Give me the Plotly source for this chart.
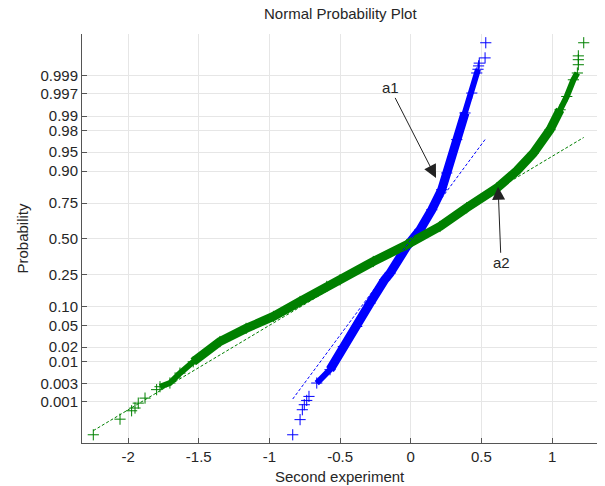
from statistics import NormalDist
import plotly.graph_objects as go

# ---------------- data ----------------
# a1 (blue): sorted sample value vs. cumulative probability
a1_value = [-0.835, -0.783, -0.767, -0.753, -0.736, -0.720, -0.665, -0.571,
            -0.477, -0.382, -0.288, -0.185, -0.146, -0.028, 0.066, 0.149,
            0.219, 0.255, 0.326, 0.384, 0.432, 0.467, 0.476, 0.480, 0.485,
            0.526, 0.531]
a1_prob = [0.0001, 0.0003, 0.00059, 0.00082, 0.00108, 0.00139, 0.0031, 0.0065,
           0.0205, 0.048, 0.111, 0.218, 0.257, 0.442, 0.568, 0.709,
           0.824, 0.894, 0.970, 0.9915, 0.99715, 0.99917, 0.99935, 0.99948, 0.99957,
           0.9997, 0.9999]

# a2 (green)
a2_value = [-2.246, -2.057, -1.975, -1.951, -1.928, -1.880, -1.798, -1.774,
            -1.704, -1.633, -1.539, -1.350, -1.165, -0.972, -0.783, -0.594,
            -0.500, -0.265, -0.028, 0.207, 0.396, 0.609, 0.750, 0.868,
            0.986, 1.057, 1.104, 1.151, 1.179, 1.186, 1.186, 1.186, 1.224]
a2_prob = [0.0001, 0.00031, 0.00055, 0.00066, 0.00091, 0.00125, 0.0021, 0.0025,
           0.0031, 0.0054, 0.0098, 0.0256, 0.0445, 0.0703, 0.117, 0.183,
           0.218, 0.333, 0.455, 0.592, 0.722, 0.832, 0.901, 0.948,
           0.9807, 0.9928, 0.99653, 0.99872, 0.99917, 0.99952, 0.99966, 0.99974, 0.9999]

# reference (fit) lines: end points
a1_fit_value = [-0.835, 0.531]
a1_fit_prob = [0.00118, 0.9713]
a2_fit_value = [-2.246, 1.224]
a2_fit_prob = [0.000136, 0.9727]

prob_ticks = [0.001, 0.003, 0.01, 0.02, 0.05, 0.10, 0.25, 0.50,
              0.75, 0.90, 0.95, 0.98, 0.99, 0.997, 0.999]
prob_tick_labels = ["0.001", "0.003", "0.01", "0.02", "0.05", "0.10", "0.25", "0.50",
                    "0.75", "0.90", "0.95", "0.98", "0.99", "0.997", "0.999"]
x_ticks = [-2, -1.5, -1, -0.5, 0, 0.5, 1]
x_tick_labels = ["-2", "-1.5", "-1", "-0.5", "0", "0.5", "1"]

# ---------------- figure ----------------
nd = NormalDist()


def probit(ps):
    return [nd.inv_cdf(p) for p in ps]


BLUE = "#0000ff"
GREEN = "#008000"
FONT = "Liberation Sans, Arial, sans-serif"
TXT = "#262626"


def window(vals, probs, lo, hi):
    sel = [(v, p) for v, p in zip(vals, probs) if lo <= p <= hi]
    return [s[0] for s in sel], [s[1] for s in sel]


fig = go.Figure()

for vals, probs, col in [(a1_value, a1_prob, BLUE), (a2_value, a2_prob, GREEN)]:
    # sparse outer part of the dense band
    dv, dp = window(vals, probs, 0.0025, 0.9994)
    fig.add_trace(go.Scatter(x=dv, y=probit(dp), mode="lines",
                             line=dict(color=col, width=6),
                             hoverinfo="skip", showlegend=False))
    # dense core of the band
    dv, dp = window(vals, probs, 0.006, 0.993)
    fig.add_trace(go.Scatter(x=dv, y=probit(dp), mode="lines",
                             line=dict(color=col, width=9),
                             hoverinfo="skip", showlegend=False))
    fig.add_trace(go.Scatter(x=vals, y=probit(probs), mode="markers",
                             marker=dict(symbol="cross-thin", size=8, color=col,
                                         line=dict(color=col, width=1)),
                             showlegend=False))

for vals, probs, col in [(a1_fit_value, a1_fit_prob, BLUE), (a2_fit_value, a2_fit_prob, GREEN)]:
    fig.add_trace(go.Scatter(x=vals, y=probit(probs), mode="lines",
                             line=dict(color=col, width=1, dash="3px,2px"),
                             showlegend=False))

axis_common = dict(
    showgrid=True, gridcolor="#e6e6e6", gridwidth=1,
    zeroline=False, showline=True, linecolor="#555555", linewidth=1,
    ticks="inside", ticklen=5, tickcolor="#555555",
    tickfont=dict(family=FONT, size=15, color=TXT),
    mirror=False,
)

fig.update_layout(
    width=605, height=486,
    margin=dict(l=82, r=8, t=34, b=43),
    paper_bgcolor="white", plot_bgcolor="white",
    font=dict(family=FONT, size=15, color=TXT),
    title=dict(text="Normal Probability Plot", x=0.5625, xanchor="center",
               y=1 - 14 / 486, yanchor="middle", yref="container",
               font=dict(family=FONT, size=15, color=TXT)),
    xaxis=dict(range=[-2.326, 1.318], tickvals=x_ticks, ticktext=x_tick_labels,
               **axis_common),
    yaxis=dict(range=[-3.875, 3.885], tickvals=probit(prob_ticks),
               ticktext=prob_tick_labels, **axis_common),
    showlegend=False,
)

annots = [
    dict(x=0.5, y=0, xref="paper", yref="paper", text="Second experiment",
         showarrow=False, yanchor="middle", yshift=-33,
         font=dict(family=FONT, size=15, color=TXT)),
    dict(x=0, y=0.5, xref="paper", yref="paper", text="Probability",
         showarrow=False, textangle=-90, xanchor="center", xshift=-60,
         font=dict(family=FONT, size=15, color=TXT)),
    dict(x=0.179, y=nd.inv_cdf(0.876), xref="x", yref="y", text="a1",
         showarrow=True, arrowhead=2, arrowsize=2.6, arrowwidth=1,
         arrowcolor="#222222", ax=-46, ay=-90,
         font=dict(family=FONT, size=15, color=TXT)),
    dict(x=0.618, y=nd.inv_cdf(0.838), xref="x", yref="y", text="a2",
         showarrow=True, arrowhead=2, arrowsize=2.6, arrowwidth=1,
         arrowcolor="#222222", ax=3, ay=76,
         font=dict(family=FONT, size=15, color=TXT)),
]
fig.update_layout(annotations=annots)

fig.write_html("out.html")
